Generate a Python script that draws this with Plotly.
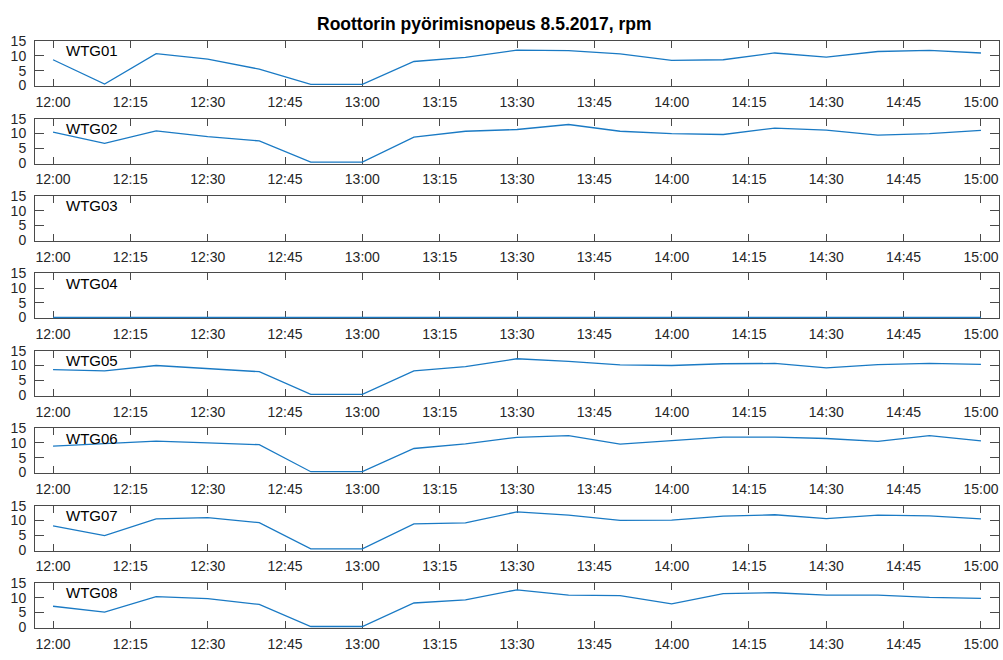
import plotly.graph_objects as go

times = ["2017-05-08 12:%02d:00" % m for m in (0, 10, 20, 30, 40, 50)] + \
        ["2017-05-08 13:%02d:00" % m for m in (0, 10, 20, 30, 40, 50)] + \
        ["2017-05-08 14:%02d:00" % m for m in (0, 10, 20, 30, 40, 50)] + \
        ["2017-05-08 15:00:00"]

turbines = ["WTG01", "WTG02", "WTG03", "WTG04", "WTG05", "WTG06", "WTG07", "WTG08"]

wtg01 = [8.7, 0.4, 10.8, 8.9, 5.5, 0.3, 0.3, 8.1, 9.5, 12.0, 11.8, 10.7, 8.5, 8.7, 11.0, 9.6, 11.5, 11.9, 11.0]
wtg02 = [10.4, 6.6, 10.8, 8.9, 7.4, 0.2, 0.2, 8.7, 10.7, 11.3, 13.0, 10.7, 9.9, 9.6, 11.8, 11.1, 9.4, 9.9, 11.0]
wtg03 = []
wtg04 = [0] * 19
wtg05 = [8.6, 8.2, 10.0, 9.0, 7.9, 0.2, 0.2, 8.2, 9.6, 12.3, 11.4, 10.2, 10.0, 10.6, 10.7, 9.2, 10.3, 10.7, 10.4]
wtg06 = [8.9, 9.8, 10.6, 10.0, 9.4, 0.2, 0.2, 8.1, 9.7, 11.9, 12.5, 9.6, 10.8, 12.0, 12.0, 11.5, 10.5, 12.5, 10.7]
wtg07 = [8.1, 4.8, 10.5, 10.9, 9.2, 0.3, 0.3, 8.8, 9.1, 12.9, 11.8, 10.0, 10.1, 11.4, 11.9, 10.6, 11.8, 11.5, 10.5]
wtg08 = [7.1, 5.1, 10.4, 9.7, 7.7, 0.2, 0.2, 8.2, 9.3, 12.7, 10.9, 10.7, 7.9, 11.4, 11.7, 10.9, 10.9, 10.1, 9.8]
series = [wtg01, wtg02, wtg03, wtg04, wtg05, wtg06, wtg07, wtg08]

yticks = [0, 5, 10, 15]
title_text = "Roottorin pyörimisnopeus 8.5.2017, rpm"

W, H = 1003, 660
FONT = "Liberation Sans, Arial, Helvetica, sans-serif"
AXC = "#4a4a4a"
LINEC = "#1a7ac4"

fig = go.Figure()
layout = dict(
    width=W, height=H, margin=dict(l=0, r=0, t=0, b=0),
    paper_bgcolor="white", plot_bgcolor="white", showlegend=False,
    font=dict(family=FONT, size=14, color="#262626"),
)
annotations = []
x_left, x_right = 35, 999
for i, (name, vals) in enumerate(zip(turbines, series)):
    top = 34 + 79.2 * i
    bot = top + 46
    xa = "xaxis" if i == 0 else "xaxis%d" % (i + 1)
    ya = "yaxis" if i == 0 else "yaxis%d" % (i + 1)
    xr = "x" if i == 0 else "x%d" % (i + 1)
    yr = "y" if i == 0 else "y%d" % (i + 1)
    fig.add_trace(go.Scatter(x=times[:len(vals)], y=vals, mode="lines",
                             line=dict(color=LINEC, width=1.3),
                             xaxis=xr, yaxis=yr, hoverinfo="skip"))
    layout[xa] = dict(
        domain=[x_left / W, x_right / W], anchor=yr, type="date",
        range=["2017-05-08 11:56:30", "2017-05-08 15:03:30"],
        tick0="2017-05-08 12:00:00", dtick=15 * 60 * 1000, tickformat="%H:%M",
        ticks="inside", ticklen=7, tickwidth=1, tickcolor=AXC,
        showline=True, linecolor=AXC, linewidth=1, mirror="ticks",
        showgrid=False, zeroline=False, fixedrange=True, layer="below traces",
        tickfont=dict(family=FONT, size=14, color="#262626"),
        ticklabelstandoff=3,
    )
    layout[ya] = dict(
        domain=[1 - bot / H, 1 - top / H], anchor=xr,
        range=[-0.3, 15], tickvals=yticks, ticktext=[str(v) for v in yticks],
        ticks="inside", ticklen=9, tickwidth=1, tickcolor=AXC,
        showline=True, linecolor=AXC, linewidth=1, mirror="ticks",
        showgrid=False, zeroline=False, fixedrange=True, layer="below traces",
        tickfont=dict(family=FONT, size=14, color="#262626"),
        ticklabelstandoff=5,
    )
    annotations.append(dict(
        x=64 / W, y=1 - (top + 10) / H, xref="paper", yref="paper",
        xanchor="left", yanchor="middle", showarrow=False,
        text=name, font=dict(family=FONT, size=15, color="#000000"),
    ))

annotations.append(dict(
    x=484 / W, y=1 - 16 / H, xref="paper", yref="paper",
    xanchor="center", yanchor="middle", showarrow=False,
    text="<b>%s</b>" % title_text, font=dict(family=FONT, size=17.5, color="#000000"),
))
layout["annotations"] = annotations
fig.update_layout(**layout)
fig.write_html("out.html")
